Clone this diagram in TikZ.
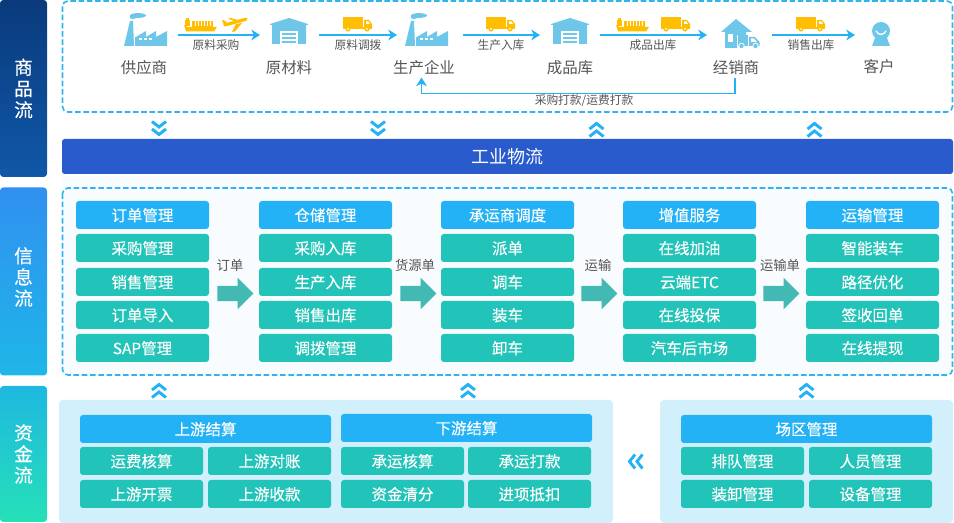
\documentclass[tikz,border=0pt]{standalone}
\usepackage{fontspec}
\setmainfont{Noto Sans CJK SC}
\newfontfamily\boxfont{Noto Sans CJK SC}[FakeBold=0.25]
\usetikzlibrary{arrows.meta,shapes.arrows,calc}
\definecolor{sky}{HTML}{22B2F5}
\definecolor{teal2}{HTML}{22C3B8}
\definecolor{iconb}{HTML}{6EC6E8}
\definecolor{orng}{HTML}{FFBE00}
\definecolor{dashb}{HTML}{30B4EC}
\definecolor{barb}{HTML}{2A5BCD}
\definecolor{panelb}{HTML}{D2F0FC}
\definecolor{blockt}{HTML}{42B9B2}
\definecolor{txtg}{HTML}{555555}
\definecolor{sideA}{HTML}{0A3A7C}
\definecolor{sideB}{HTML}{1058A8}
\definecolor{sideC}{HTML}{3090F0}
\definecolor{sideD}{HTML}{1FB6E8}
\definecolor{sideE}{HTML}{1FB8E0}
\definecolor{sideF}{HTML}{25E0B8}
\definecolor{faint}{HTML}{F8FCFF}
\tikzset{
  x=0.75pt,y=-0.75pt,
  sidebox/.style={rounded corners=2.5pt,minimum width=35.25pt,inner sep=0pt,align=center,text=white,font=\boxfont\fontsize{14}{15.9}\selectfont},
  dashbox/.style={draw=dashb,line width=1.2pt,dash pattern=on 4.2pt off 2pt,rounded corners=4pt},
  hdr/.style={rounded corners=2.2pt,fill=sky,text=white,inner sep=0pt,minimum height=21pt,text height=10pt,text depth=0.8pt,font=\boxfont\fontsize{11.6}{14}\selectfont},
  cell/.style={rounded corners=2.2pt,fill=teal2,text=white,inner sep=0pt,minimum height=21pt,text height=10pt,text depth=0.8pt,font=\boxfont\fontsize{11.6}{14}\selectfont},
  col/.style={minimum width=99.75pt},
  wide/.style={minimum width=188.25pt},
  half/.style={minimum width=92.25pt},
  place/.style={inner sep=0pt,text=txtg,text height=10.4pt,text depth=1.2pt,font=\fontsize{11.6}{14}\selectfont},
  flow/.style={inner sep=0pt,text=txtg,font=\fontsize{8.8}{10}\selectfont},
  blocklab/.style={inner sep=0pt,text=txtg,font=\fontsize{10}{12}\selectfont},
  blockarrow/.style={single arrow,anchor=tail,fill=blockt,inner xsep=0pt,inner ysep=5.6pt,minimum height=27pt,minimum width=23.25pt,single arrow head extend=6pt,single arrow head indent=0pt},
  conn/.style={draw=sky,line width=0.95pt,-{Stealth[length=6.5pt,width=8pt,inset=2pt]}},
  panel/.style={fill=panelb,rounded corners=3pt},
  chevline/.style={draw=sky,line width=2.2pt,miter limit=10},
  truckpic/.pic={
    \fill[orng] (0,0) rectangle (20,10);
    \fill[orng] (0,10.5) rectangle (29,12);
    \fill[orng] (21,3)--(26,3)--(29,7)--(29,11)--(21,11)--cycle;
    \fill[white] (23,4.5)--(25.5,4.5)--(27,7)--(23,7)--cycle;
    \fill[orng] (5,12) circle[radius=2.6];
    \fill[orng] (24,12) circle[radius=2.6];
    \fill[white] (5,12) circle[radius=1];
    \fill[white] (24,12) circle[radius=1];
  },
  shippic/.pic={
    \fill[orng] (0,7)--(3.5,9)--(33,9)--(30,13.5)--(2,13.5)--cycle;
    \fill[orng] (1,2.5) rectangle (6,8);
    \fill[orng] (2,0) rectangle (5,2.5);
    \fill[orng] (8,3) rectangle (29,9);
    \foreach \i in {11,14,17,20,23,26}{\fill[white] (\i,3.5) rectangle (\i+.7,8.5);}
  },
  factorypic/.pic={
    \fill[iconb] (0,33)--(6,8)--(9,8)--(10,33)--cycle;
    \fill[iconb] (11,33)--(11,24.5)--(22,18)--(22,24)--(32,18)--(32,24)--(43,18)--(43,33)--cycle;
    \fill[iconb] (14,2.5) ellipse[x radius=8,y radius=2.4];
    \fill[iconb] (9,4) ellipse[x radius=3.5,y radius=2];
    \foreach \i in {15,20,25}{\fill[white] (\i,25) rectangle (\i+2.6,27);}
  },
  housepic/.pic={
    \fill[iconb] (0,6)--(19,0)--(38,6)--(38,7)--(36,7)--(36,26)--(2,26)--(2,7)--(0,7)--cycle;
    \fill[white] (10,13) rectangle (28,26);
    \foreach \i in {15,19,23}{\fill[iconb] (12,\i) rectangle (26,\i+2);}
  },
  chevdown/.pic={
    \draw[chevline] (-7,-7.5)--(0,-2)--(7,-7.5);
    \draw[chevline] (-7,0)--(0,5.5)--(7,0);
  },
  chevup/.pic={
    \draw[chevline] (-7,7.5)--(0,2)--(7,7.5);
    \draw[chevline] (-7,0)--(0,-5.5)--(7,0);
  },
  chevleft/.pic={
    \draw[chevline] (7.5,-7)--(2,0)--(7.5,7);
    \draw[chevline] (0,-7)--(-5.5,0)--(0,7);
  },
}
\begin{document}
\begin{tikzpicture}
\useasboundingbox (0,0) rectangle (954,523);
% side bars
\node[sidebox,minimum height=132.75pt,top color=sideA,bottom color=sideB] (sideGoods) at (23.5,88.5) {商\\品\\流};
\node[sidebox,minimum height=141pt,top color=sideC,bottom color=sideD] (sideInfo) at (23.5,281.5) {};
\node[sidebox] (sideInfoText) at (23.5,277) {信\\息\\流};
\node[sidebox,minimum height=102pt,top color=sideE,bottom color=sideF] (sideFund) at (23.5,454) {资\\金\\流};
% frames
\draw[dashbox] (62.5,1) rectangle (952.5,112);
\fill[faint] (63,176) rectangle (953,188);
\draw[dashbox,fill=faint] (62.5,188) rectangle (952.5,375);
\node[fill=barb,rounded corners=2pt,text=white,inner sep=0pt,minimum width=668.25pt,minimum height=26.25pt,text height=12pt,text depth=1.5pt,font=\fontsize{13.5}{16}\selectfont] (bar) at (507.5,156.5) {工业物流};
\fill[panel] (59,400) rectangle (613,523);
\fill[panel] (660,400) rectangle (953,523);
% goods row icons
\pic at (124,13) {factorypic};
\pic at (405,13) {factorypic};
\pic at (270,18) {housepic};
\pic at (551,18) {housepic};
\pic at (343,17) {truckpic};
\pic at (486,17) {truckpic};
\pic at (661,17) {truckpic};
\pic at (796,17) {truckpic};
\pic at (184,18) {shippic};
\pic at (616,18) {shippic};
% plane
\draw[orng,line width=2.4pt,line cap=round] (225,25)--(246,19.2);
\fill[orng] (236,22)--(228,18.5)--(231,18)--(241,21)--cycle;
\fill[orng] (236,24)--(232,32)--(235,31.5)--(242,23)--cycle;
\fill[orng] (224,25.5)--(222,20)--(224.5,20.5)--(228,24)--cycle;
% distributor icon
\fill[iconb] (721,32)--(736,19)--(752,32)--(746,32)--(746,35)--(737,35)--(737,48)--(725,48)--(725,32)--cycle;
\fill[white] (727.5,34) rectangle (733,42);
\fill[iconb] (738,35) rectangle (748,46);
\fill[iconb] (749,37)--(755,37)--(759.5,42)--(759.5,46)--(749,46)--cycle;
\fill[white] (751,38.5)--(754,38.5)--(757,42)--(751,42)--cycle;
\fill[white] (741.5,46) circle[radius=3.2];
\fill[white] (755.5,46) circle[radius=3.2];
\fill[iconb] (741.5,46) circle[radius=2.2];
\fill[iconb] (755.5,46) circle[radius=2.2];
% customer icon
\fill[iconb] (875,38)--(887,38)--(890,46)--(872,46)--cycle;
\fill[iconb] (881,31) circle[radius=9];
\draw[white,line width=1pt,line cap=round] (876,31) .. controls (878,35.5) and (884,35.5) .. (886,31);
% goods labels
\node[place] (supplier) at (144,67) {供应商};
\node[place] (material) at (289,67) {原材料};
\node[place] (producer) at (424,67) {生产企业};
\node[place] (finished) at (570,67) {成品库};
\node[place] (dealer) at (736,67) {经销商};
\node[place] (customer) at (879,66) {客户};
% flow connectors
\coordinate (a1) at (178,35); \coordinate (b1) at (260,35);
\coordinate (a2) at (319,35); \coordinate (b2) at (397,35);
\coordinate (a3) at (463,35); \coordinate (b3) at (540,35);
\coordinate (a4) at (600,35); \coordinate (b4) at (707,35);
\coordinate (a5) at (772,35); \coordinate (b5) at (855,35);
\foreach \i in {1,...,5}{\draw[conn] (a\i) -- (b\i);}
\node[flow] (f1) at (216,45) {原料采购};
\node[flow] (f2) at (358,45) {原料调拨};
\node[flow] (f3) at (501,45) {生产入库};
\node[flow] (f4) at (653,45) {成品出库};
\node[flow] (f5) at (811,45) {销售出库};
\coordinate (retc) at (735,93.5);
\coordinate (rete) at (421.5,77.5);
\draw[conn] (735,78) -- (retc) -- (retc -| rete) -- (rete);
\node[flow] (f6) at (584,101) {采购打款/运费打款};
% chevrons
\pic at (159,129) {chevdown};
\pic at (378,129) {chevdown};
\pic at (596.5,129) {chevup};
\pic at (814.5,129) {chevup};
\pic at (159,390) {chevup};
\pic at (468,390) {chevup};
\pic at (806.5,390) {chevup};
\pic at (635,461.5) {chevleft};
% info columns
\node[hdr,col] (c1h) at (142.5,215) {订单管理};
\node[cell,col] (c1a) at (142.5,248) {采购管理};
\node[cell,col] (c1b) at (142.5,282) {销售管理};
\node[cell,col] (c1c) at (142.5,315) {订单导入};
\node[cell,col] (c1d) at (142.5,348) {SAP管理};
\node[hdr,col] (c2h) at (325.5,215) {仓储管理};
\node[cell,col] (c2a) at (325.5,248) {采购入库};
\node[cell,col] (c2b) at (325.5,282) {生产入库};
\node[cell,col] (c2c) at (325.5,315) {销售出库};
\node[cell,col] (c2d) at (325.5,348) {调拨管理};
\node[hdr,col] (c3h) at (507.5,215) {承运商调度};
\node[cell,col] (c3a) at (507.5,248) {派单};
\node[cell,col] (c3b) at (507.5,282) {调车};
\node[cell,col] (c3c) at (507.5,315) {装车};
\node[cell,col] (c3d) at (507.5,348) {卸车};
\node[hdr,col] (c4h) at (689.5,215) {增值服务};
\node[cell,col] (c4a) at (689.5,248) {在线加油};
\node[cell,col] (c4b) at (689.5,282) {云端ETC};
\node[cell,col] (c4c) at (689.5,315) {在线投保};
\node[cell,col] (c4d) at (689.5,348) {汽车后市场};
\node[hdr,col] (c5h) at (872.5,215) {运输管理};
\node[cell,col] (c5a) at (872.5,248) {智能装车};
\node[cell,col] (c5b) at (872.5,282) {路径优化};
\node[cell,col] (c5c) at (872.5,315) {签收回单};
\node[cell,col] (c5d) at (872.5,348) {在线提现};
% block arrows
\node[blockarrow] (ba1) at (217,293.5) {};
\node[blockarrow] (ba2) at (400,293.5) {};
\node[blockarrow] (ba3) at (581,293.5) {};
\node[blockarrow] (ba4) at (763,293.5) {};
\node[blocklab] (bl1) at (230,265) {订单};
\node[blocklab] (bl2) at (415,265) {货源单};
\node[blocklab] (bl3) at (598,265) {运输};
\node[blocklab] (bl4) at (780,265) {运输单};
% funds
\node[hdr,wide] (u0) at (205.5,429) {上游结算};
\node[cell,half] (u1) at (141.5,461) {运费核算};
\node[cell,half] (u2) at (269.5,461) {上游对账};
\node[cell,half] (u3) at (141.5,494) {上游开票};
\node[cell,half] (u4) at (269.5,494) {上游收款};
\node[hdr,wide] (d0) at (466.5,428) {下游结算};
\node[cell,half] (d1) at (402.5,461) {承运核算};
\node[cell,half] (d2) at (529.5,461) {承运打款};
\node[cell,half] (d3) at (402.5,494) {资金清分};
\node[cell,half] (d4) at (529.5,494) {进项抵扣};
\node[hdr,wide] (y0) at (806.5,429) {场区管理};
\node[cell,half] (y1) at (742.5,461) {排队管理};
\node[cell,half] (y2) at (870.5,461) {人员管理};
\node[cell,half] (y3) at (742.5,494) {装卸管理};
\node[cell,half] (y4) at (870.5,494) {设备管理};
\end{tikzpicture}
\end{document}
